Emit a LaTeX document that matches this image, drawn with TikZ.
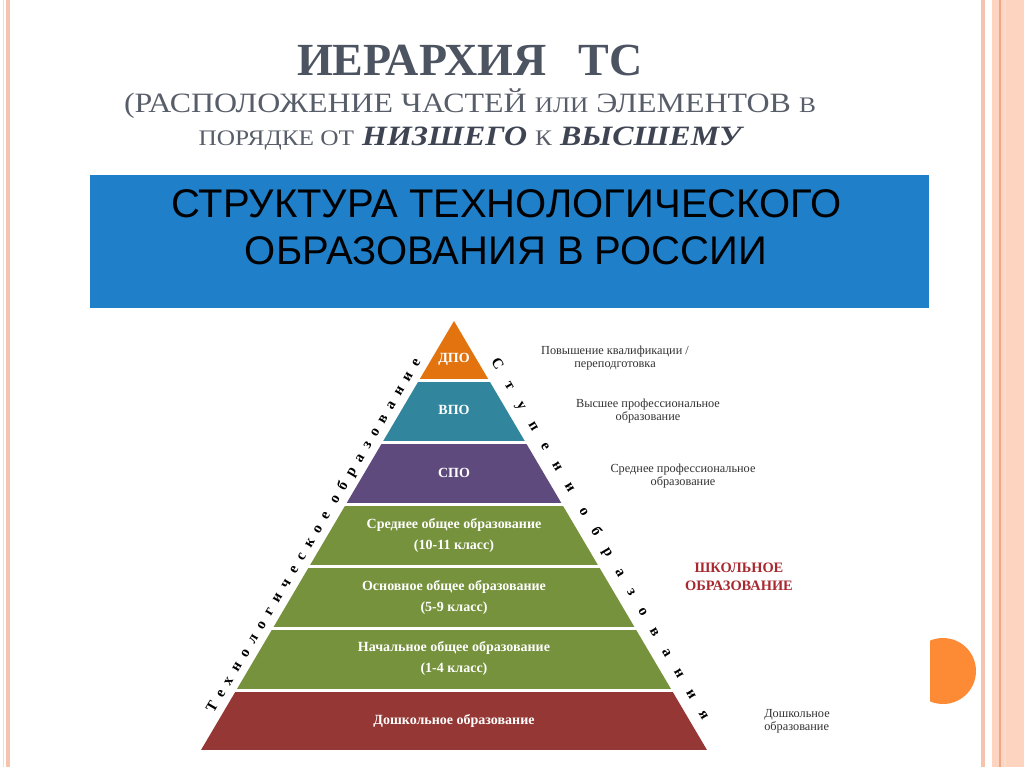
\documentclass[tikz,border=0pt]{standalone}
\usepackage{fontspec}
\setmainfont{Liberation Serif}
\newfontfamily\sansf{Liberation Sans}
\newfontfamily\sideA[LetterSpace=55]{Liberation Serif}
\newfontfamily\sideB[LetterSpace=106]{Liberation Serif}
\newcommand\fsc[1]{{\fontsize{11.1pt}{12pt}\selectfont #1}}
\definecolor{titlec}{HTML}{4D5461}
\definecolor{subc}{HTML}{585E69}
\definecolor{subbold}{HTML}{3E4452}
\definecolor{blueb}{HTML}{1F7FC8}
\definecolor{cdpo}{HTML}{E2730F}
\definecolor{cvpo}{HTML}{31869E}
\definecolor{cspo}{HTML}{5F4A7E}
\definecolor{cgreen}{HTML}{76923C}
\definecolor{cred}{HTML}{953735}
\definecolor{schoolc}{HTML}{A8282F}
\definecolor{descc}{HTML}{333333}
\definecolor{bordc}{HTML}{F4C4AC}
\definecolor{bordlight}{HTML}{F8DCCD}
\definecolor{bandfill}{HTML}{FCD4C0}
\definecolor{bandline}{HTML}{EDA888}
\definecolor{orangec}{HTML}{FD8B35}
\begin{document}
\begin{tikzpicture}[x=0.5pt,y=-0.5pt,
  layertext/.style={text=white,font=\fontsize{7pt}{10.5pt}\selectfont\bfseries,align=center,inner sep=0},
  desc/.style={text=descc,font=\fontsize{6.15pt}{6.5pt}\selectfont,align=center,inner sep=0},
]
\useasboundingbox (0,0) rectangle (1024,767);
\fill[white] (0,0) rectangle (1024,767);
% borders
\fill[bordlight] (2.5,0) rectangle (4,767);
\fill[bordc] (6,0) rectangle (10,767);
\fill[bordc] (981,0) rectangle (985,767);
\fill[bandfill] (992,0) rectangle (1024,767);
\draw[bandline,line width=0.6pt] (1000,0) -- (1000,767);
\draw[bordlight,line width=0.6pt] (1005,0) -- (1005,767);
% half circle
\begin{scope}
\clip (930,600) rectangle (990,740);
\fill[orangec] (943,671) circle [radius=33];
\end{scope}
% title
\node[text=titlec,font=\fontsize{23pt}{26pt}\selectfont\bfseries,inner sep=0] (title) at (470,60) {ИЕРАРХИЯ\hspace{16pt}ТС};
\node[text=subc,font=\fontsize{14pt}{16.5pt}\selectfont,align=center,inner sep=0,xscale=1.14] (sub) at (470,119)
 {(РАСПОЛОЖЕНИЕ ЧАСТЕЙ \fsc{ИЛИ} ЭЛЕМЕНТОВ \fsc{В}\\
  \fsc{ПОРЯДКЕ ОТ} {\color{subbold}\bfseries\itshape НИЗШЕГО} \fsc{К} {\color{subbold}\bfseries\itshape ВЫСШЕМУ}};
% blue band
\node[fill=blueb,minimum width=419.5pt,minimum height=66.5pt,inner sep=0] (band) at (509.5,241.5) {};
\node[font=\sansf\fontsize{20pt}{23.5pt}\selectfont,align=center,text=black,inner sep=0] (bandtext) at (506,227)
 {СТРУКТУРА ТЕХНОЛОГИЧЕСКОГО\\ОБРАЗОВАНИЯ В РОССИИ};
% pyramid
\begin{scope}
\clip (454,321) -- (201,750) -- (707,750) -- cycle;
\fill[cdpo] (100,300) rectangle (800,379);
\fill[cvpo] (100,382) rectangle (800,441);
\fill[cspo] (100,444) rectangle (800,503);
\fill[cgreen] (100,506) rectangle (800,565);
\fill[cgreen] (100,568) rectangle (800,627);
\fill[cgreen] (100,630) rectangle (800,689);
\fill[cred] (100,692) rectangle (800,750);
\end{scope}
\node[layertext] (dpo) at (454,359) {ДПО};
\node[layertext] (vpo) at (454,410) {ВПО};
\node[layertext] (spo) at (454,473) {СПО};
\node[layertext] (soo) at (454,535.5) {Среднее общее образование\\(10-11 класс)};
\node[layertext] (ooo) at (454,597.5) {Основное общее образование\\(5-9 класс)};
\node[layertext] (noo) at (454,658.5) {Начальное общее образование\\(1-4 класс)};
\node[layertext] (do) at (454,721) {Дошкольное образование};
% side labels
\node[font=\sideA\fontsize{7.5pt}{8pt}\selectfont\bfseries,rotate=59.5,inner sep=0] (left) at (314,536) {Технологическое образование};
\node[font=\sideB\fontsize{7.5pt}{8pt}\selectfont\bfseries,rotate=-59.5,inner sep=0] (right) at (600,539) {Ступени образования};
% descriptions
\node[desc] (d1) at (615,358) {Повышение квалификации /\\переподготовка};
\node[desc] (d2) at (648,411.5) {Высшее профессиональное\\образование};
\node[desc] (d3) at (683,476) {Среднее профессиональное\\образование};
\node[text=schoolc,font=\fontsize{7.2pt}{9pt}\selectfont\bfseries,align=center,inner sep=0] (school) at (739,577) {ШКОЛЬНОЕ\\ОБРАЗОВАНИЕ};
\node[desc,align=left] (d4) at (797,721.5) {Дошкольное\\образование};
\end{tikzpicture}
\end{document}
